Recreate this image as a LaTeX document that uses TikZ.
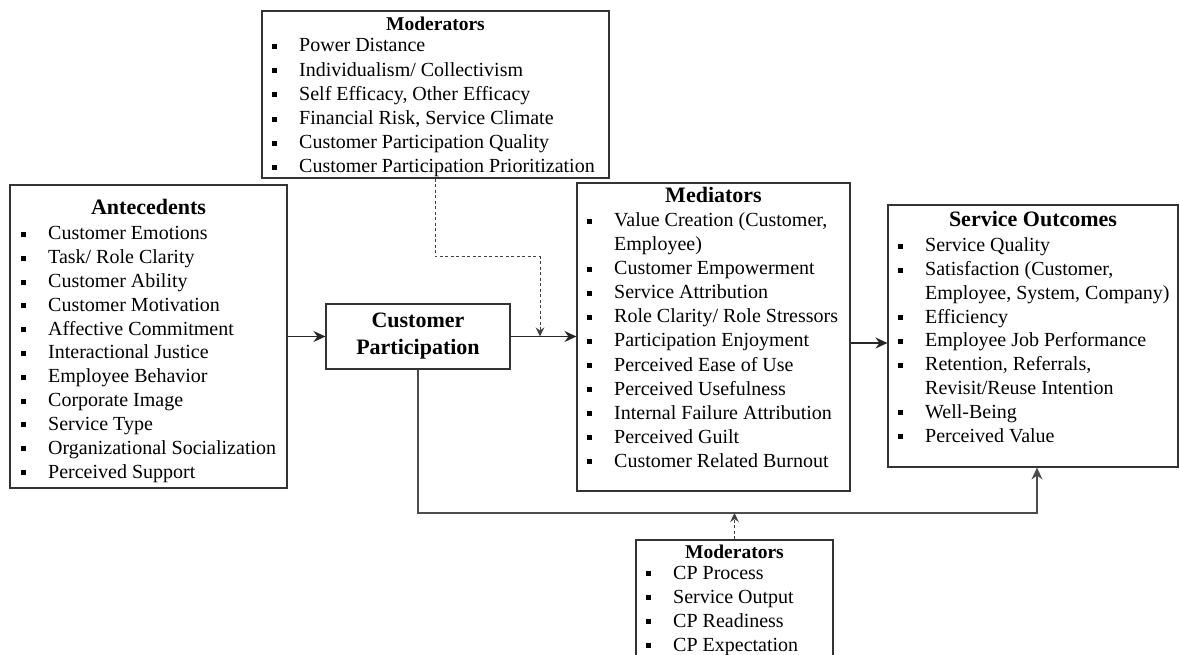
\documentclass[tikz,border=0pt]{standalone}
\usepackage{fontspec}
\setmainfont{Liberation Serif}
\usetikzlibrary{arrows.meta,fit}

\tikzset{
  panel/.style={draw=black!80, line width=1.1pt, inner sep=0pt, fit={#1}},
  itemtext/.style={anchor=base west, inner sep=0pt, font=\fontsize{20}{24}\selectfont},
  heading/.style={anchor=base, inner sep=0pt, font=\fontsize{22}{26}\selectfont\bfseries},
  subheading/.style={anchor=base, inner sep=0pt, font=\fontsize{19.5}{23}\selectfont\bfseries},
  flow/.style={draw=black!85, line width=1.1pt, -{Stealth[length=12pt,width=11pt,inset=4pt]}},
  modlink/.style={draw=black!75, line width=1pt, dash pattern=on 3pt off 2.5pt,
    -{Stealth[length=9pt,width=8.5pt,inset=3pt]}},
}

% bulleted list: name prefix, text x, first baseline, line step, entries flag/text
\newcommand\itemlist[5]{%
  \foreach \flag/\txt [count=\i] in {#5} {
    \pgfmathsetmacro\yy{#3+#4*(\i-1)}
    \node[itemtext] (#1-\i) at (#2,\yy) {\txt};
    \ifnum\flag=1 \fill ({#2-26.8},{\yy-8}) rectangle ++(5,5); \fi
  }%
}

\begin{document}
\begin{tikzpicture}[x=1pt,y=-1pt]
\useasboundingbox (0,0) rectangle (1179,655);
\fill[white] (0,0) rectangle (1179,655);
\clip (0,0) rectangle (1179,655);

% panels
\node[panel={(262,11) (609,178)}] (tmod) {};
\node[panel={(10,185) (287,488)}] (ante) {};
\node[panel={(577,183) (850,491)}] (med) {};
\node[panel={(888,205) (1178,467)}] (so) {};
\node[panel={(636,540) (833,700)}] (bmod) {};
\node[draw=black!80, line width=1.1pt, minimum width=184, minimum height=65,
      align=center, inner sep=0pt, font=\fontsize{22}{27}\selectfont\bfseries]
      (cp) at (418,336.5) {Customer\\Participation};

% upper moderators
\node[subheading] (tmod-title) at (435.5,31) {Moderators};
\itemlist{tmod}{299}{52}{24.2}{1/{Power Distance}, 1/{Individualism/ Collectivism},
  1/{Self Efficacy, Other Efficacy}, 1/{Financial Risk, Service Climate},
  1/{Customer Participation Quality}, 1/{Customer Participation Prioritization}}

% antecedents
\node[heading] (ante-title) at (148.5,215) {Antecedents};
\itemlist{ante}{48}{240}{23.8}{1/{Customer Emotions}, 1/{Task/ Role Clarity},
  1/{Customer Ability}, 1/{Customer Motivation}, 1/{Affective Commitment},
  1/{Interactional Justice}, 1/{Employee Behavior}, 1/{Corporate Image},
  1/{Service Type}, 1/{Organizational Socialization}, 1/{Perceived Support}}

% mediators
\node[heading] (med-title) at (713.5,203) {Mediators};
\itemlist{med}{614}{227}{24}{1/{Value Creation (Customer,}, 0/{Employee)},
  1/{Customer Empowerment}, 1/{Service Attribution}, 1/{Role Clarity/ Role Stressors},
  1/{Participation Enjoyment}, 1/{Perceived Ease of Use}, 1/{Perceived Usefulness},
  1/{Internal Failure Attribution}, 1/{Perceived Guilt}, 1/{Customer Related Burnout}}

% service outcomes
\node[heading] (so-title) at (1033,227) {Service Outcomes};
\itemlist{so}{925}{252}{23.75}{1/{Service Quality}, 1/{Satisfaction (Customer,},
  0/{Employee, System, Company)}, 1/{Efficiency}, 1/{Employee Job Performance},
  1/{Retention, Referrals,}, 0/{Revisit/Reuse Intention}, 1/{Well-Being},
  1/{Perceived Value}}

% lower moderators
\node[subheading] (bmod-title) at (734.5,558) {Moderators};
\itemlist{bmod}{673}{579}{24}{1/{CP Process}, 1/{Service Output},
  1/{CP Readiness}, 1/{CP Expectation}}

% connectors
\coordinate (m2s) at (0,343);
\coordinate (loop) at (0,513);
\coordinate (soin) at (1037,0);
\coordinate (tbend) at (540,257);

\draw[flow] (ante.east |- cp.west) -- (cp.west);
\draw[flow] (cp.east) -- (med.west |- cp.east);
\draw[flow] (med.east |- m2s) -- (so.west |- m2s);
\draw[flow, draw=black!70] (cp.south) -- (cp.south |- loop) -- (soin |- loop) -- (soin |- so.south);
\draw[modlink] (tmod.south) -- (tmod.south |- tbend) -- (tbend) -- (tbend |- cp.east);
\draw[modlink] (bmod.north) -- (bmod.north |- loop);
\end{tikzpicture}
\end{document}
